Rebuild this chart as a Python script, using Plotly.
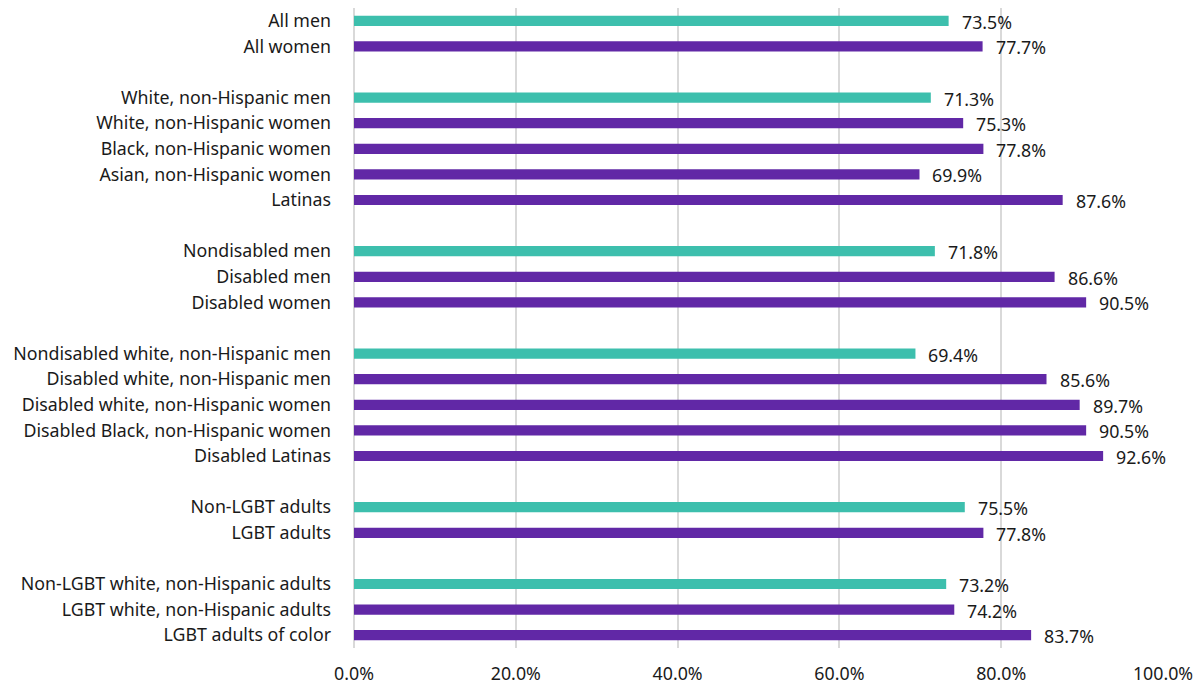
import plotly.graph_objects as go

# Groups of categories (gaps between groups)
group1_labels = ["All men", "All women"]
group1_values = [73.5, 77.7]
group2_labels = ["White, non-Hispanic men", "White, non-Hispanic women", "Black, non-Hispanic women",
                 "Asian, non-Hispanic women", "Latinas"]
group2_values = [71.3, 75.3, 77.8, 69.9, 87.6]
group3_labels = ["Nondisabled men", "Disabled men", "Disabled women"]
group3_values = [71.8, 86.6, 90.5]
group4_labels = ["Nondisabled white, non-Hispanic men", "Disabled white, non-Hispanic men",
                 "Disabled white, non-Hispanic women", "Disabled Black, non-Hispanic women", "Disabled Latinas"]
group4_values = [69.4, 85.6, 89.7, 90.5, 92.6]
group5_labels = ["Non-LGBT adults", "LGBT adults"]
group5_values = [75.5, 77.8]
group6_labels = ["Non-LGBT white, non-Hispanic adults", "LGBT white, non-Hispanic adults", "LGBT adults of color"]
group6_values = [73.2, 74.2, 83.7]

groups = [(group1_labels, group1_values), (group2_labels, group2_values), (group3_labels, group3_values),
          (group4_labels, group4_values), (group5_labels, group5_values), (group6_labels, group6_values)]

x_ticks = [0, 20, 40, 60, 80, 100]
x_tick_labels = ["0.0%", "20.0%", "40.0%", "60.0%", "80.0%", "100.0%"]

TEAL = "#3DBFAD"
PURPLE = "#6128A6"
FONT = "Noto Sans"
FS = 17.8

labels, values, pos, colors = [], [], [], []
p = 0
for gl, gv in groups:
    for i, (l, v) in enumerate(zip(gl, gv)):
        labels.append(l)
        values.append(v)
        pos.append(p)
        colors.append(TEAL if i == 0 else PURPLE)
        p += 1
    p += 1  # gap slot
last = pos[-1]

fig = go.Figure()
fig.add_trace(go.Bar(
    x=values, y=pos, orientation="h", width=0.4,
    marker=dict(color=colors, line=dict(width=0)),
    hoverinfo="x+y",
))

for v, yy in zip(values, pos):
    fig.add_annotation(x=v, y=yy, text=f"{v:.1f}%", showarrow=False, xanchor="left",
                       xshift=11, yshift=-1, font=dict(family=FONT, size=FS, color="#1a1a1a"))

fig.update_layout(
    width=1200, height=685,
    margin=dict(l=354, r=37, t=8, b=37),
    plot_bgcolor="white", paper_bgcolor="white",
    showlegend=False,
    font=dict(family=FONT, size=FS, color="#1a1a1a"),
    xaxis=dict(range=[0, 100], tickvals=x_ticks, ticktext=x_tick_labels,
               showgrid=True, gridcolor="#D9D9D9", gridwidth=1.5,
               zeroline=True, zerolinecolor="#D9D9D9", zerolinewidth=1.5,
               showline=False, ticks="", ticklabelstandoff=13, automargin=False),
    yaxis=dict(range=[last + 0.5, -0.5], tickvals=pos, ticktext=labels,
               showgrid=False, zeroline=False, showline=False, ticks="",
               ticklabelstandoff=22, automargin=False),
)

fig.write_html("out.html")
